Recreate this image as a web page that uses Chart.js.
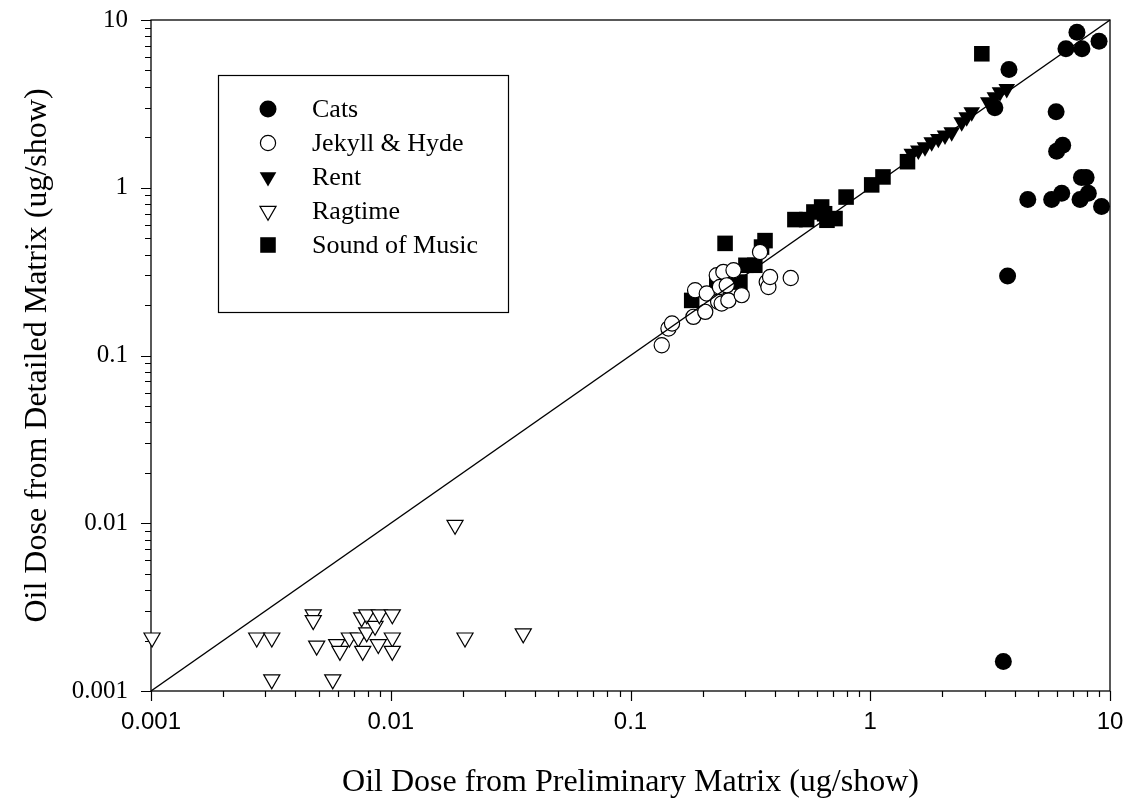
<!DOCTYPE html>
<html><head><meta charset="utf-8">
<script src="https://cdn.jsdelivr.net/npm/chart.js@4.4.0/dist/chart.umd.min.js"></script>
<style>html,body{margin:0;padding:0;background:#fff;}#wrap{width:1134px;height:807px;}</style>
</head><body><div id="wrap"><canvas id="c" width="1134" height="807"></canvas></div>
<script>
const seriesNames = ['Cats', 'Jekyll & Hyde', 'Rent', 'Ragtime', 'Sound of Music'];

const catsX = [7.28, 6.55, 7.64, 9.0, 3.79, 3.31, 5.96, 6.35, 5.99, 7.6, 7.95, 4.54, 5.71, 6.29, 7.50, 8.12, 9.22, 3.74, 3.59];
const catsY = [8.46, 6.74, 6.74, 7.48, 5.07, 3.0, 2.84, 1.79, 1.65, 1.15, 1.15, 0.85, 0.85, 0.926, 0.85, 0.926, 0.772, 0.298, 0.0015];

const jekyllX = [0.135, 0.144, 0.149, 0.183, 0.205, 0.186, 0.208, 0.232, 0.240, 0.256, 0.291, 0.229, 0.244, 0.269, 0.236, 0.252, 0.347, 0.370, 0.376, 0.382, 0.466];
const jekyllY = [0.115, 0.145, 0.155, 0.170, 0.182, 0.245, 0.234, 0.209, 0.204, 0.213, 0.229, 0.301, 0.315, 0.322, 0.256, 0.262, 0.414, 0.274, 0.256, 0.294, 0.290];

const rentX = [1.49, 1.587, 1.692, 1.804, 1.923, 2.05, 2.186, 2.407, 2.525, 2.65, 3.108, 3.31, 3.476, 3.71];
const rentY = [1.60, 1.67, 1.747, 1.873, 1.961, 2.053, 2.148, 2.463, 2.636, 2.825, 3.24, 3.47, 3.715, 3.89];

const ragtimeX = [0.00101, 0.00276, 0.00319, 0.00319, 0.00475, 0.00475, 0.00491, 0.00573, 0.00595, 0.00614, 0.00672, 0.00732, 0.00756, 0.00764, 0.00794, 0.00794, 0.00860, 0.00896, 0.00887, 0.01015, 0.01015, 0.01015, 0.01854, 0.0204, 0.0357];
const ragtimeY = [0.00208, 0.00208, 0.00208, 0.00117, 0.00286, 0.00264, 0.00186, 0.00117, 0.00190, 0.00173, 0.00208, 0.00208, 0.00274, 0.00173, 0.00286, 0.00223, 0.00244, 0.00286, 0.00190, 0.00286, 0.00208, 0.00173, 0.00976, 0.00208, 0.00220];

const soundX = [0.180, 0.229, 0.252, 0.286, 0.303, 0.330, 0.248, 0.352, 0.364, 0.485, 0.543, 0.582, 0.627, 0.660, 0.713, 0.645, 0.793, 1.014, 1.13, 1.43, 2.92];
const soundY = [0.213, 0.274, 0.297, 0.274, 0.345, 0.345, 0.466, 0.443, 0.484, 0.646, 0.646, 0.717, 0.768, 0.640, 0.655, 0.700, 0.880, 1.04, 1.16, 1.43, 6.29];

const refLineX = [0.001, 10];
const refLineY = [0.001, 10];

const tickValues = [0.001, 0.01, 0.1, 1, 10];
const tickLabels = ['0.001', '0.01', '0.1', '1', '10'];

const xTitle = 'Oil Dose from Preliminary Matrix (ug/show)';
const yTitle = 'Oil Dose from Detailed Matrix (ug/show)';

function pts(xs, ys) { return xs.map((x, i) => ({ x: x, y: ys[i] })); }

const SERIF = '"Liberation Serif", "Times New Roman", serif';
const SANS = '"Liberation Sans", Arial, sans-serif';

const styles = [
  { pointStyle: 'circle', pointRadius: 8.5, pointRotation: 0, backgroundColor: '#000', borderColor: '#000', borderWidth: 0 },
  { pointStyle: 'circle', pointRadius: 7.6, pointRotation: 0, backgroundColor: '#fff', borderColor: '#000', borderWidth: 1.2 },
  { pointStyle: 'triangle', pointRadius: 9.6, pointRotation: 180, backgroundColor: '#000', borderColor: '#000', borderWidth: 0 },
  { pointStyle: 'triangle', pointRadius: 9.3, pointRotation: 180, backgroundColor: '#fff', borderColor: '#000', borderWidth: 1.2 },
  { pointStyle: 'rect', pointRadius: 11, pointRotation: 0, backgroundColor: '#000', borderColor: '#000', borderWidth: 0 }
];
const seriesData = [pts(catsX, catsY), pts(jekyllX, jekyllY), pts(rentX, rentY), pts(ragtimeX, ragtimeY), pts(soundX, soundY)];

const datasets = seriesNames.map((name, i) => Object.assign({
  label: name,
  data: seriesData[i],
  showLine: false,
  clip: false,
  order: 1
}, styles[i]));
datasets.push({
  label: 'y = x',
  type: 'line',
  data: pts(refLineX, refLineY),
  showLine: true,
  borderColor: '#000',
  borderWidth: 1.5,
  pointRadius: 0,
  fill: false,
  clip: false,
  order: 0
});

const axisDecor = {
  id: 'axisDecor',
  beforeDatasetsDraw(chart) {
    const { ctx, chartArea: a, scales } = chart;
    const xs = scales.x, ys = scales.y;
    ctx.save();
    ctx.strokeStyle = '#000';
    ctx.lineWidth = 1.3;
    ctx.strokeRect(a.left, a.top, a.right - a.left, a.bottom - a.top);
    ctx.lineWidth = 1.2;
    ctx.beginPath();
    for (let e = -3; e <= 1; e++) {
      for (let m = 1; m <= 9; m++) {
        const v = m * Math.pow(10, e);
        if (v > 10.0001) break;
        const len = m === 1 ? 10 : 6;
        const px = Math.round(xs.getPixelForValue(v)) + 0.5;
        ctx.moveTo(px, a.bottom);
        ctx.lineTo(px, a.bottom + len);
        const py = Math.round(ys.getPixelForValue(v)) + 0.5;
        ctx.moveTo(a.left, py);
        ctx.lineTo(a.left - len, py);
      }
    }
    ctx.stroke();
    ctx.restore();
  }
};

const boxLegend = {
  id: 'boxLegend',
  afterDraw(chart) {
    const ctx = chart.ctx;
    ctx.save();
    ctx.strokeStyle = '#000';
    ctx.lineWidth = 1.2;
    ctx.fillStyle = '#fff';
    ctx.fillRect(218, 75, 290, 237);
    ctx.strokeRect(218.5, 75.5, 290, 237);
    const mx = 268, tx = 312, y0 = 109, dy = 34;
    ctx.font = '26px ' + SERIF;
    ctx.textBaseline = 'middle';
    ctx.textAlign = 'left';
    seriesNames.forEach((name, i) => {
      const y = y0 + i * dy;
      const s = styles[i];
      ctx.beginPath();
      const r = s.pointRadius;
      if (s.pointStyle === 'circle') {
        ctx.arc(mx, y, r, 0, Math.PI * 2);
      } else if (s.pointStyle === 'triangle') {
        let rad = Math.PI;
        ctx.moveTo(mx + Math.sin(rad) * r, y - Math.cos(rad) * r);
        rad += 2 * Math.PI / 3;
        ctx.lineTo(mx + Math.sin(rad) * r, y - Math.cos(rad) * r);
        rad += 2 * Math.PI / 3;
        ctx.lineTo(mx + Math.sin(rad) * r, y - Math.cos(rad) * r);
        ctx.closePath();
      } else {
        const h = r * Math.SQRT1_2;
        ctx.rect(mx - h, y - h, 2 * h, 2 * h);
      }
      ctx.fillStyle = s.backgroundColor;
      ctx.fill();
      if (s.borderWidth > 0) { ctx.lineWidth = s.borderWidth; ctx.strokeStyle = s.borderColor; ctx.stroke(); }
      ctx.fillStyle = '#000';
      ctx.fillText(name, tx, y + 1);
    });
    ctx.restore();
  }
};

function zeroPad(s) { s.paddingTop = 0; s.paddingBottom = 0; s.paddingLeft = 0; s.paddingRight = 0; }

new Chart(document.getElementById('c'), {
  type: 'scatter',
  data: { datasets: datasets },
  plugins: [axisDecor, boxLegend],
  options: {
    responsive: false,
    devicePixelRatio: 1,
    animation: false,
    layout: { padding: { left: 0, top: 20, right: 24, bottom: 0 } },
    plugins: { legend: { display: false }, tooltip: { enabled: false } },
    scales: {
      x: {
        type: 'logarithmic',
        position: 'bottom',
        min: 0.001, max: 10,
        afterBuildTicks: (s) => { s.ticks = tickValues.map(v => ({ value: v, major: true })); },
        afterFit: (s) => { s.height = 116; zeroPad(s); },
        grid: { display: false, drawTicks: false },
        border: { display: false },
        ticks: {
          autoSkip: false, maxRotation: 0, padding: 17, color: '#000',
          font: { family: SANS, size: 24 },
          callback: (v) => { const i = tickValues.indexOf(v); return i >= 0 ? tickLabels[i] : ''; }
        },
        title: { display: true, text: xTitle, color: '#000', font: { family: SERIF, size: 32, lineHeight: 1.2 }, padding: { top: 0, bottom: 5 } }
      },
      y: {
        type: 'logarithmic',
        position: 'left',
        min: 0.001, max: 10,
        afterBuildTicks: (s) => { s.ticks = tickValues.map(v => ({ value: v, major: true })); },
        afterFit: (s) => { s.width = 151; zeroPad(s); },
        grid: { display: false, drawTicks: false },
        border: { display: false },
        ticks: {
          autoSkip: false, padding: 23, color: '#000',
          font: { family: SERIF, size: 25 },
          callback: (v) => { const i = tickValues.indexOf(v); return i >= 0 ? tickLabels[i] : ''; }
        },
        title: { display: true, text: yTitle, color: '#000', font: { family: SERIF, size: 32, lineHeight: 1.2 }, padding: { top: 18, bottom: 0 } }
      }
    }
  }
});
</script>
</body></html>
